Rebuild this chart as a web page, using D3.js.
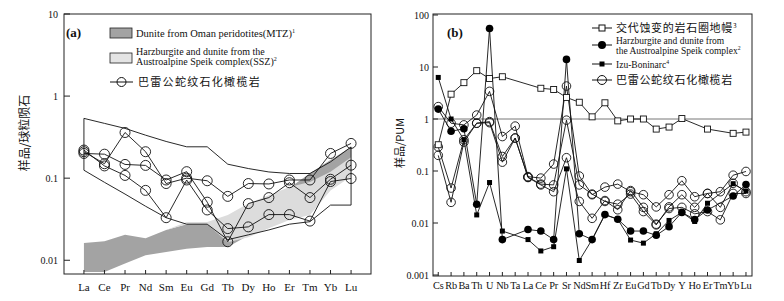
<!DOCTYPE html>
<html>
<head>
<meta charset="utf-8">
<script src="https://cdn.jsdelivr.net/npm/d3@7"></script>
<style>
  body { margin: 0; background: #fff; }
  svg text { font-family: "Liberation Serif", "Times New Roman", serif; fill: #111; }
  svg text.cjk { font-family: "Noto Sans CJK SC", sans-serif; }
</style>
</head>
<body>
<div id="chart"></div>
<script>
// ---- panel (a) data: chondrite normalised REE ----
const reeLabels = ['La','Ce','Pr','Nd','Sm','Eu','Gd','Tb','Dy','Ho','Er','Tm','Yb','Lu'];
const reeTicks = [10, 1, 0.1, 0.01];
// Baleigong serpentinised peridotite samples
const baleiA1 = [0.21,0.15,0.36,0.21,0.086,0.10,0.093,0.06,0.086,0.085,0.095,0.095,0.20,0.265];
const baleiA2 = [0.20,0.196,0.147,0.143,0.095,0.12,0.051,0.0168,0.049,0.058,0.088,0.058,0.097,0.144];
const baleiA3 = [0.22,0.141,0.108,0.071,0.033,0.095,0.041,0.0243,0.0255,0.036,0.036,0.030,0.091,0.099];
// outline envelope
const envUpper = [0.535,0.465,0.404,0.334,0.28,0.241,0.241,0.148,0.131,0.119,0.114,0.114,0.158,0.24];
const envLower = [0.125,0.089,0.064,0.0455,0.033,0.0275,0.0275,0.0178,0.0204,0.0234,0.0275,0.0295,0.047,0.047];
// Oman MTZ dunite band
const omanTop    = [0.0162,0.017,0.0204,0.0186,0.0234,0.0275,0.0275,0.020,0.0316,0.047,0.076,0.115,0.166,0.24];
const omanBottom = [0.0072,0.0072,0.0091,0.0115,0.0126,0.0138,0.0145,0.0145,0.020,0.028,0.040,0.063,0.10,0.158];
// Speik SSZ band
const speikTop    = [null,null,null,null,0.0234,0.0293,0.0293,0.0355,0.049,0.062,0.078,0.090,0.12,0.18];
const speikBottom = [null,null,null,null,0.0234,0.0275,0.0275,0.0166,0.019,0.0245,0.031,0.0355,0.071,0.105];

// ---- panel (b) data: PUM normalised spider diagram ----
const spiderLabels = ['Cs','Rb','Ba','Th','U','Nb','Ta','La','Ce','Pr','Sr','Nd','Sm','Hf','Zr','Eu','Gd','Tb','Dy','Y','Ho','Er','Tm','Yb','Lu'];
const spiderTicks = [100, 10, 1, 0.1, 0.01, 0.001];
const metaMantle = [0.32,3.0,5.0,8.5,6.0,6.5,null,null,3.9,3.7,2.6,2.1,1.1,2.05,0.92,1.0,1.0,0.64,0.70,1.02,null,0.64,null,0.53,0.56];
const speikB = [1.55,0.58,0.65,0.023,55,0.0048,null,0.0075,0.0070,0.0048,14,0.0062,0.0048,0.0145,0.0118,0.0070,0.0070,0.0058,0.0085,0.016,0.0117,0.0178,null,0.033,0.055];
const izuBonin = [6.3,1.0,0.40,0.0143,0.06,0.0070,null,0.0048,0.0029,0.0035,0.11,0.0019,0.0048,0.0145,0.0118,0.0047,0.0041,0.0062,0.0112,0.016,0.0107,0.024,null,0.057,0.041];
const baleiB1 = [1.73,0.83,0.77,1.19,3.4,0.46,0.73,0.078,0.073,0.136,4.3,0.08,0.035,0.049,0.056,0.040,0.035,0.0204,0.035,0.065,0.032,0.037,0.040,0.083,0.098];
const baleiB2 = [0.29,0.047,0.40,0.83,0.89,0.19,0.43,0.076,0.056,0.054,0.95,0.054,0.036,0.026,0.023,0.036,0.0166,0.0092,0.0204,0.035,0.020,0.037,0.020,0.058,0.040];
const baleiB3 = [0.20,0.025,0.36,0.83,0.85,0.148,0.43,0.075,0.054,0.040,0.18,0.026,0.0123,0.027,0.018,0.042,0.020,0.0095,0.019,0.020,0.015,0.0166,0.0115,0.037,0.037];

const width = 784, height = 301;
const svg = d3.select('#chart').append('svg')
  .attr('width', width).attr('height', height);

// helper: superscript tspan
function supText(sel, main, sup) {
  sel.append('tspan').text(main);
  if (sup) sel.append('tspan').attr('dy', -4).attr('font-size', '0.6em').text(sup);
}

// ================= panel (a) =================
const xA = d3.scaleLinear().domain([-0.97, 13.97]).range([64, 371]);
const yA = d3.scaleLog().domain([0.0068, 10]).range([274, 14]);
const gA = svg.append('g');

const pts = arr => arr.map((v, i) => [i, v]).filter(d => d[1] != null);
const lineA = d3.line().x(d => xA(d[0])).y(d => yA(d[1]));
const bandA = (top, bot) => lineA(pts(top).concat(pts(bot).reverse())) + 'Z';

gA.append('path').attr('d', bandA(omanTop, omanBottom)).attr('fill', '#a3a3a3');
gA.append('path').attr('d', bandA(speikTop, speikBottom)).attr('fill', '#dcdcdc');
gA.append('path').attr('d', bandA(envUpper, envLower))
  .attr('fill', 'none').attr('stroke', '#111').attr('stroke-width', 0.9);

[baleiA1, baleiA2, baleiA3].forEach(s => {
  gA.append('path').attr('d', lineA(pts(s)))
    .attr('fill', 'none').attr('stroke', '#111').attr('stroke-width', 0.9);
  gA.selectAll(null).data(pts(s)).enter().append('circle')
    .attr('cx', d => xA(d[0])).attr('cy', d => yA(d[1])).attr('r', 5)
    .attr('fill', 'none').attr('stroke', '#111').attr('stroke-width', 0.9);
});

// frame and axes
gA.append('rect').attr('x', 64).attr('y', 14).attr('width', 307).attr('height', 260)
  .attr('fill', 'none').attr('stroke', '#222').attr('stroke-width', 1);
gA.selectAll('.xt').data(reeLabels).enter().append('line')
  .attr('x1', (d, i) => xA(i)).attr('x2', (d, i) => xA(i))
  .attr('y1', 274).attr('y2', 270).attr('stroke', '#222');
gA.selectAll('.xl').data(reeLabels).enter().append('text')
  .attr('x', (d, i) => xA(i)).attr('y', 291).attr('text-anchor', 'middle')
  .attr('font-size', 11).text(d => d);
gA.selectAll('.yt').data(reeTicks).enter().append('line')
  .attr('x1', 64).attr('x2', 70).attr('y1', d => yA(d)).attr('y2', d => yA(d)).attr('stroke', '#222');
gA.selectAll('.yl').data(reeTicks).enter().append('text')
  .attr('x', 58).attr('y', d => yA(d) + 3.5).attr('text-anchor', 'end')
  .attr('font-size', 10).text(d => d);
gA.append('text').attr('class', 'cjk').attr('transform', 'translate(29,133) rotate(-90)')
  .attr('text-anchor', 'middle').attr('font-size', 12).text('样品/球粒陨石');

// legend (a)
gA.append('text').attr('x', 66).attr('y', 37).attr('font-size', 13).attr('font-weight', 'bold').text('(a)');
gA.append('rect').attr('x', 110).attr('y', 28).attr('width', 22).attr('height', 10)
  .attr('fill', '#a3a3a3').attr('stroke', '#222').attr('stroke-width', 0.8);
supText(gA.append('text').attr('x', 136).attr('y', 37).attr('font-size', 10.5), 'Dunite from Oman peridotites(MTZ)', '1');
gA.append('rect').attr('x', 110).attr('y', 53).attr('width', 22).attr('height', 10)
  .attr('fill', '#e4e4e4').attr('stroke', '#222').attr('stroke-width', 0.8);
gA.append('text').attr('x', 136).attr('y', 55).attr('font-size', 10).text('Harzburgite and dunite from the');
supText(gA.append('text').attr('x', 136).attr('y', 65).attr('font-size', 10), 'Austroalpine Speik complex(SSZ)', '2');
gA.append('line').attr('x1', 110).attr('x2', 133).attr('y1', 82).attr('y2', 82).attr('stroke', '#111');
gA.append('circle').attr('cx', 121.5).attr('cy', 82).attr('r', 4.5).attr('fill', 'none').attr('stroke', '#111');
gA.append('text').attr('class', 'cjk').attr('x', 138).attr('y', 86).attr('font-size', 11)
  .attr('letter-spacing', 1.3).text('巴雷公蛇纹石化橄榄岩');

// ================= panel (b) =================
const xB = d3.scaleLinear().domain([-0.41, 24.47]).range([433, 752]);
const yB = d3.scaleLog().domain([0.001, 100]).range([275, 15]);
const gB = svg.append('g');
const lineB = d3.line().x(d => xB(d[0])).y(d => yB(d[1]));

gB.append('line').attr('x1', 433).attr('x2', 752).attr('y1', yB(1)).attr('y2', yB(1))
  .attr('stroke', '#666').attr('stroke-width', 0.9);

function drawSeries(data, shape) {
  gB.append('path').attr('d', lineB(pts(data)))
    .attr('fill', 'none').attr('stroke', '#111').attr('stroke-width', 0.9);
  const sel = gB.selectAll(null).data(pts(data)).enter();
  if (shape === 'openCircle') {
    sel.append('circle').attr('cx', d => xB(d[0])).attr('cy', d => yB(d[1])).attr('r', 4.3)
      .attr('fill', 'none').attr('stroke', '#111').attr('stroke-width', 0.9);
  } else if (shape === 'filledCircle') {
    sel.append('circle').attr('cx', d => xB(d[0])).attr('cy', d => yB(d[1])).attr('r', 3.8)
      .attr('fill', '#000');
  } else if (shape === 'openSquare') {
    sel.append('rect').attr('x', d => xB(d[0]) - 3).attr('y', d => yB(d[1]) - 3)
      .attr('width', 6).attr('height', 6).attr('fill', '#fff').attr('stroke', '#111').attr('stroke-width', 0.9);
  } else {
    sel.append('rect').attr('x', d => xB(d[0]) - 2.5).attr('y', d => yB(d[1]) - 2.5)
      .attr('width', 5).attr('height', 5).attr('fill', '#000');
  }
}
drawSeries(baleiB1, 'openCircle');
drawSeries(baleiB2, 'openCircle');
drawSeries(baleiB3, 'openCircle');
drawSeries(izuBonin, 'filledSquare');
drawSeries(speikB, 'filledCircle');
drawSeries(metaMantle, 'openSquare');

gB.append('rect').attr('x', 433).attr('y', 14).attr('width', 319).attr('height', 262)
  .attr('fill', 'none').attr('stroke', '#222').attr('stroke-width', 1);
gB.selectAll('.xt').data(spiderLabels).enter().append('line')
  .attr('x1', (d, i) => xB(i)).attr('x2', (d, i) => xB(i))
  .attr('y1', 276).attr('y2', 272).attr('stroke', '#222');
gB.selectAll('.xl').data(spiderLabels).enter().append('text')
  .attr('x', (d, i) => xB(i)).attr('y', 289).attr('text-anchor', 'middle')
  .attr('font-size', 10.3).attr('letter-spacing', -0.2).text(d => d);
gB.selectAll('.yt').data(spiderTicks).enter().append('line')
  .attr('x1', 433).attr('x2', 438).attr('y1', d => yB(d)).attr('y2', d => yB(d)).attr('stroke', '#222');
gB.selectAll('.yl').data(spiderTicks).enter().append('text')
  .attr('x', 429).attr('y', d => yB(d) + 3.5).attr('text-anchor', 'end')
  .attr('font-size', 10).text(d => d);
gB.append('text').attr('class', 'cjk').attr('transform', 'translate(404,143) rotate(-90)')
  .attr('text-anchor', 'middle').attr('font-size', 11).text('样品/PUM');

// legend (b)
gB.append('text').attr('x', 447).attr('y', 37).attr('font-size', 13).attr('font-weight', 'bold').text('(b)');
const legB = [
  {y: 28, shape: 'openSquare'},
  {y: 45, shape: 'filledCircle'},
  {y: 64, shape: 'filledSquare'},
  {y: 80, shape: 'openCircle'}
];
legB.forEach(l => {
  gB.append('line').attr('x1', 592).attr('x2', 612).attr('y1', l.y).attr('y2', l.y).attr('stroke', '#111');
  if (l.shape === 'openSquare') gB.append('rect').attr('x', 599).attr('y', l.y - 3).attr('width', 6).attr('height', 6)
    .attr('fill', '#fff').attr('stroke', '#111');
  if (l.shape === 'filledCircle') gB.append('circle').attr('cx', 602).attr('cy', l.y).attr('r', 4).attr('fill', '#000');
  if (l.shape === 'filledSquare') gB.append('rect').attr('x', 599.5).attr('y', l.y - 2.5).attr('width', 5).attr('height', 5).attr('fill', '#000');
  if (l.shape === 'openCircle') gB.append('circle').attr('cx', 602).attr('cy', l.y).attr('r', 4.5)
    .attr('fill', 'none').attr('stroke', '#111');
});
const t1 = gB.append('text').attr('class', 'cjk').attr('x', 616).attr('y', 32).attr('font-size', 11).attr('letter-spacing', 0.7);
supText(t1, '交代蚀变的岩石圈地幔', '3');
gB.append('text').attr('x', 616).attr('y', 43.5).attr('font-size', 9.5).text('Harzburgite and dunite from');
supText(gB.append('text').attr('x', 616).attr('y', 53.5).attr('font-size', 9.5), 'the Austroalpine Speik complex', '2');
supText(gB.append('text').attr('x', 616).attr('y', 67.5).attr('font-size', 9.5), 'Izu-Boninarc', '4');
gB.append('text').attr('class', 'cjk').attr('x', 616).attr('y', 84).attr('font-size', 11)
  .attr('letter-spacing', 0.7).text('巴雷公蛇纹石化橄榄岩');
</script>
</body>
</html>
